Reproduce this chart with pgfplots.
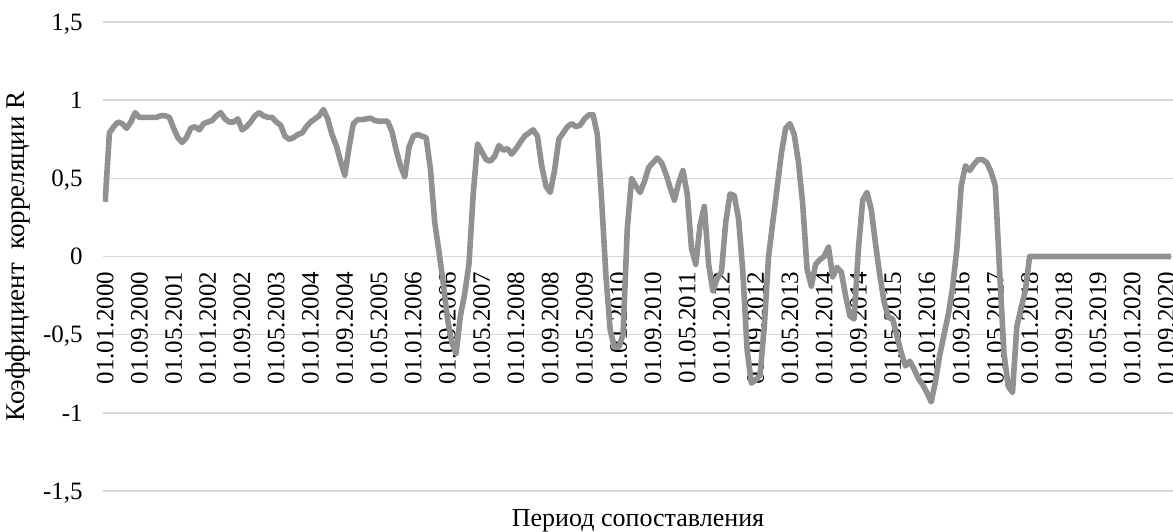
\documentclass[border=0pt]{standalone}
\usepackage{pgfplots}
\pgfplotsset{compat=1.18}
\usepackage{pgfplotstable}
\usepackage{fontspec}
\setmainfont{Liberation Serif}
\definecolor{linegray}{RGB}{145,145,145}
\definecolor{gridgray}{RGB}{217,217,217}
\pgfplotstableread{
x y
0 0.35
1 0.79
2 0.83
3 0.86
4 0.85
5 0.82
6 0.86
7 0.92
8 0.89
9 0.89
10 0.89
11 0.89
12 0.89
13 0.90
14 0.90
15 0.89
16 0.82
17 0.76
18 0.73
19 0.76
20 0.82
21 0.83
22 0.81
23 0.85
24 0.86
25 0.87
26 0.90
27 0.92
28 0.88
29 0.86
30 0.86
31 0.88
32 0.81
33 0.83
34 0.86
35 0.90
36 0.92
37 0.90
38 0.89
39 0.89
40 0.86
41 0.84
42 0.77
43 0.75
44 0.76
45 0.78
46 0.79
47 0.83
48 0.86
49 0.88
50 0.90
51 0.94
52 0.88
53 0.78
54 0.71
55 0.61
56 0.52
57 0.70
58 0.85
59 0.875
60 0.875
61 0.88
62 0.885
63 0.87
64 0.865
65 0.865
66 0.865
67 0.80
68 0.68
69 0.58
70 0.51
71 0.70
72 0.77
73 0.78
74 0.77
75 0.76
76 0.56
77 0.22
78 0.03
79 -0.17
80 -0.40
81 -0.55
82 -0.62
83 -0.38
84 -0.24
85 -0.05
86 0.40
87 0.72
88 0.67
89 0.62
90 0.61
91 0.64
92 0.71
93 0.68
94 0.69
95 0.655
96 0.69
97 0.73
98 0.77
99 0.79
100 0.81
101 0.77
102 0.58
103 0.45
104 0.41
105 0.55
106 0.75
107 0.79
108 0.83
109 0.85
110 0.83
111 0.84
112 0.88
113 0.906
114 0.906
115 0.78
116 0.36
117 -0.12
118 -0.47
119 -0.58
120 -0.58
121 -0.50
122 0.18
123 0.50
124 0.45
125 0.41
126 0.48
127 0.57
128 0.60
129 0.63
130 0.60
131 0.53
132 0.44
133 0.36
134 0.47
135 0.55
136 0.40
137 0.05
138 -0.05
139 0.20
140 0.32
141 -0.05
142 -0.22
143 -0.14
144 -0.10
145 0.22
146 0.40
147 0.39
148 0.24
149 -0.10
150 -0.60
151 -0.81
152 -0.79
153 -0.76
154 -0.45
155 0.00
156 0.22
157 0.44
158 0.66
159 0.82
160 0.85
161 0.78
162 0.60
163 0.33
164 -0.08
165 -0.19
166 -0.05
167 -0.02
168 0.00
169 0.06
170 -0.13
171 -0.07
172 -0.10
173 -0.25
174 -0.38
175 -0.40
176 0.05
177 0.36
178 0.41
179 0.30
180 0.08
181 -0.12
182 -0.29
183 -0.39
184 -0.40
185 -0.51
186 -0.615
187 -0.70
188 -0.67
189 -0.72
190 -0.78
191 -0.82
192 -0.87
193 -0.93
194 -0.80
195 -0.63
196 -0.50
197 -0.37
198 -0.20
199 0.05
200 0.45
201 0.58
202 0.55
203 0.59
204 0.62
205 0.62
206 0.60
207 0.54
208 0.45
209 -0.10
210 -0.62
211 -0.83
212 -0.87
213 -0.45
214 -0.33
215 -0.22
216 0
217 0
218 0
219 0
220 0
221 0
222 0
223 0
224 0
225 0
226 0
227 0
228 0
229 0
230 0
231 0
232 0
233 0
234 0
235 0
236 0
237 0
238 0
239 0
240 0
241 0
242 0
243 0
244 0
245 0
246 0
247 0
248 0
249 0
}\corrdata
\begin{document}
\begin{tikzpicture}
\begin{axis}[
  scale only axis,
  width=535pt, height=234.5pt,
  xmin=-0.5, xmax=249.5,
  ymin=-1.5, ymax=1.5,
  axis x line*=middle,
  axis y line*=left,
  axis line style={draw=none},
  major tick length=0pt,
  ymajorgrids,
  grid style={gridgray, line width=0.75pt},
  ytick={-1.5,-1,-0.5,0,0.5,1,1.5},
  yticklabels={{-1,5},{-1},{-0,5},{0},{0,5},{1},{1,5}},
  yticklabel style={anchor=east, inner sep=0pt, xshift=-10pt, text depth=0pt, font=\fontsize{12.5}{15}\selectfont},
  xtick={0,8,...,248},
  xticklabels={01.01.2000,01.09.2000,01.05.2001,01.01.2002,01.09.2002,01.05.2003,01.01.2004,01.09.2004,01.05.2005,01.01.2006,01.09.2006,01.05.2007,01.01.2008,01.09.2008,01.05.2009,01.01.2010,01.09.2010,01.05.2011,01.01.2012,01.09.2012,01.05.2013,01.01.2014,01.09.2014,01.05.2015,01.01.2016,01.09.2016,01.05.2017,01.01.2018,01.09.2018,01.05.2019,01.01.2020,01.09.2020},
  xticklabel style={rotate=90, anchor=east, inner xsep=7.5pt, inner ysep=0pt, font=\fontsize{12.5}{15}\selectfont},
  every axis x label/.style={at={(rel axis cs:0.5,0)}, anchor=base, yshift=-18pt, font=\fontsize{13}{15}\selectfont},
  every axis y label/.style={at={(rel axis cs:0,0.5)}, xshift=-42.5pt, rotate=90, anchor=center, font=\fontsize{13.5}{15}\selectfont},
  xlabel={Период сопоставления},
  ylabel={Коэффициент~ корреляции R},
]
\addplot[linegray, line width=2.8pt, line join=round, mark=none] table[x=x, y=y] {\corrdata};
\end{axis}
\pgfresetboundingbox
\path ([shift={(-51.5pt,-20.5pt)}]current axis.south west) rectangle ([shift={(0pt,11pt)}]current axis.north east);
\end{tikzpicture}
\end{document}
